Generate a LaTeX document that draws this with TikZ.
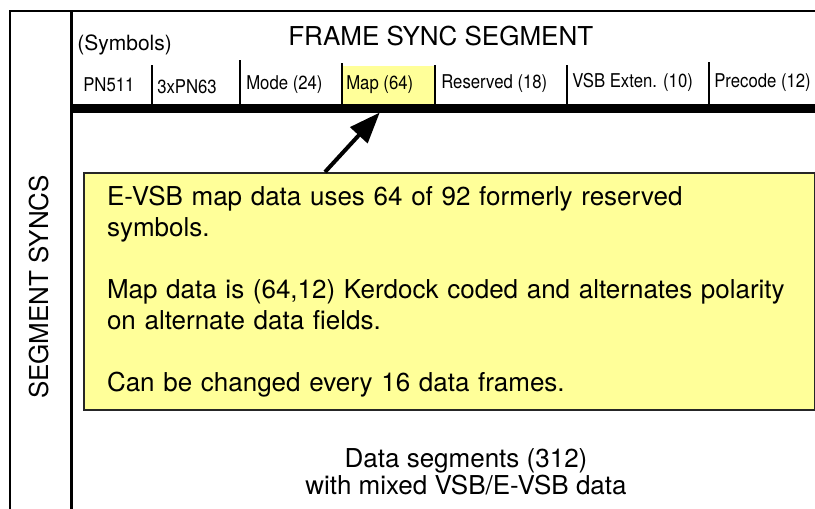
\documentclass[tikz,border=0pt]{standalone}
\usepackage{fontspec}
\setmainfont{TeX Gyre Heros}
\usetikzlibrary{arrows.meta, calc, positioning}
\definecolor{noteYellow}{HTML}{FFFF99}
\definecolor{noteEdge}{HTML}{262626}
\tikzset{
  % page units are pixels of the original slide
  every picture/.append style = {line width=0.7pt},
  frameline/.style  = {line width=2pt, black},
  syncline/.style   = {line width=3pt, black},
  sepline/.style    = {line width=2.6pt, black},
  syncbar/.style    = {line width=9pt, black},
  pointer/.style    = {-{Triangle[length=31pt, width=23pt]}, line width=4pt, black},
  seglbl/.style     = {font=\fontsize{19}{22}\selectfont, xscale=0.88, anchor=base west, inner sep=0pt},
  biglbl/.style     = {font=\fontsize{26}{27}\selectfont, inner sep=0pt},
}

\begin{document}
\begin{tikzpicture}[x=1pt, y=-1pt,
    note/.style={draw=noteEdge, line width=2pt, fill=noteYellow, anchor=north west,
                 minimum width=731pt, minimum height=237pt, inner xsep=23pt, inner ysep=0pt,
                 text width=685pt, align=left, font=\fontsize{26}{31}\selectfont}]
  \useasboundingbox (0,0) rectangle (815,509);
  % outer frame and segment sync column
  \draw[frameline] (10,509) -- (10,11) -- (815,11);
  \draw[syncline] (71,11) -- (71,509);
  % highlighted map field
  \fill[noteYellow] (343,66) rectangle (435,104);
  \draw[syncbar] (71,108) -- (815,108);
  \foreach \sx/\stop in {152/65, 240/60, 342/63, 435/65, 567/65, 709/62}
    \draw[sepline] (\sx,\stop) -- (\sx,104);
  % headings
  \node[biglbl, anchor=base west] (title) at (288,45) {FRAME SYNC SEGMENT};
  \node[seglbl, xscale=1/0.88, font=\fontsize{21}{24}\selectfont] (units) at (77,50) {(Symbols)};
  \node[biglbl, rotate=90] (syncs) at (39,287) {SEGMENT SYNCS};
  % field names
  \node[seglbl] (pn)       at (83,91)  {PN511};
  \node[seglbl] (tripn)    at (157,93) {3xPN63};
  \node[seglbl] (mode)     at (246,89) {Mode (24)};
  \node[seglbl] (map)      at (346,89) {Map (64)};
  \node[seglbl] (reserved) at (441,88) {Reserved (18)};
  \node[seglbl] (vsbext)   at (572,87) {VSB Exten. (10)};
  \node[seglbl] (precode)  at (714,87) {Precode (12)};
  % call-out
  \node[note] (info) at (83,172) {E-VSB map data uses 64 of 92 formerly reserved\\
    symbols.\\[31pt]
    Map data is (64,12) Kerdock coded and alternates polarity\\
    on alternate data fields.\\[31pt]
    Can be changed every 16 data frames.};
  \coordinate (mapfoot) at (map.south |- 0,112.5);
  \draw[pointer] ([xshift=242pt]info.north west) -- (mapfoot);
  % body of the frame
  \node[biglbl, align=center] (data) at (466,472) {Data segments (312)\\with mixed VSB/E-VSB data};
\end{tikzpicture}
\end{document}
